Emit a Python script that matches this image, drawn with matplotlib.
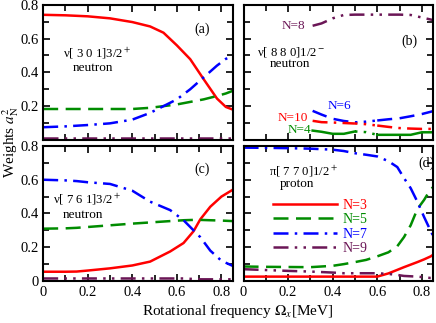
import numpy as np
import matplotlib
matplotlib.use("Agg")
import matplotlib.pyplot as plt
from matplotlib.ticker import MultipleLocator, FuncFormatter

plt.rcParams["font.family"] = ["Liberation Serif", "DejaVu Serif"]
plt.rcParams["mathtext.fontset"] = "stix"

RED = "#ff0000"
GREEN = "#008c00"
BLUE = "#0000ff"
PURPLE = "#6b1656"

# panel (a): nu[301]3/2+ neutron
a_x = [0.0, 0.1, 0.2, 0.3, 0.4, 0.48, 0.54, 0.6, 0.66, 0.72, 0.78, 0.82, 0.85]
a_n3 = [0.741, 0.738, 0.732, 0.72, 0.698, 0.672, 0.635, 0.56, 0.478, 0.36, 0.245, 0.195, 0.18]
a_n5 = [0.183, 0.183, 0.183, 0.183, 0.183, 0.19, 0.2, 0.21, 0.225, 0.24, 0.26, 0.275, 0.29]
a_n7 = [0.075, 0.08, 0.088, 0.098, 0.12, 0.16, 0.2, 0.24, 0.3, 0.37, 0.44, 0.48, 0.496]
a_n9 = [0.01, 0.01, 0.01, 0.01, 0.01, 0.01, 0.01, 0.01, 0.01, 0.01, 0.01, 0.01, 0.01]

# panel (b): nu[880]1/2- neutron
b_x = [0.31, 0.35, 0.4, 0.45, 0.5, 0.55, 0.6, 0.65, 0.7, 0.75, 0.8, 0.85]
b_n8 = [0.676, 0.69, 0.72, 0.74, 0.742, 0.742, 0.742, 0.742, 0.742, 0.74, 0.725, 0.71]
b_n6 = [0.172, 0.15, 0.125, 0.112, 0.104, 0.108, 0.115, 0.122, 0.128, 0.14, 0.153, 0.17]
b_n10 = [0.113, 0.105, 0.103, 0.1, 0.097, 0.093, 0.085, 0.077, 0.07, 0.067, 0.065, 0.065]
b_n4 = [0.055, 0.048, 0.036, 0.036, 0.05, 0.046, 0.03, 0.03, 0.03, 0.03, 0.045, 0.045]

# panel (c): nu[761]3/2+ neutron
c_x = [0.0, 0.1, 0.15, 0.2, 0.3, 0.4, 0.48, 0.57, 0.63, 0.675, 0.705, 0.75, 0.8, 0.85]
c_n3 = [0.055, 0.055, 0.056, 0.062, 0.075, 0.092, 0.115, 0.175, 0.225, 0.295, 0.365, 0.44, 0.5, 0.54]
c_n5 = [0.31, 0.312, 0.315, 0.32, 0.33, 0.34, 0.347, 0.355, 0.36, 0.362, 0.362, 0.36, 0.358, 0.355]
c_n7 = [0.6, 0.596, 0.592, 0.585, 0.575, 0.535, 0.47, 0.42, 0.36, 0.3, 0.26, 0.18, 0.12, 0.09]
c_n9 = [0.015, 0.015, 0.015, 0.015, 0.015, 0.015, 0.015, 0.015, 0.015, 0.012, 0.01, 0.01, 0.01, 0.01]

# panel (d): pi[770]1/2+ proton
d_x = [0.0, 0.1, 0.2, 0.3, 0.4, 0.45, 0.5, 0.55, 0.6, 0.65, 0.69, 0.72, 0.75, 0.78, 0.81, 0.84, 0.85]
d_n3 = [0.026, 0.026, 0.026, 0.026, 0.026, 0.026, 0.026, 0.026, 0.026, 0.045, 0.066, 0.082, 0.097, 0.112, 0.128, 0.146, 0.155]
d_n5 = [0.086, 0.084, 0.083, 0.082, 0.09, 0.1, 0.112, 0.125, 0.146, 0.17, 0.206, 0.26, 0.33, 0.426, 0.48, 0.545, 0.555]
d_n7 = [0.79, 0.789, 0.787, 0.784, 0.778, 0.77, 0.757, 0.748, 0.738, 0.71, 0.675, 0.61, 0.55, 0.47, 0.38, 0.296, 0.27]
d_n9 = [0.07, 0.065, 0.06, 0.056, 0.05, 0.046, 0.046, 0.046, 0.046, 0.042, 0.036, 0.03, 0.028, 0.026, 0.022, 0.018, 0.018]

labels = ["N=3", "N=5", "N=7", "N=9"]

styles = {
    "n3": dict(color=RED, linestyle="-"),
    "n5": dict(color=GREEN, linestyle=(0, (6, 3))),
    "n7": dict(color=BLUE, linestyle=(0, (6, 2.5, 1, 2.5))),
    "n9": dict(color=PURPLE, linestyle=(0, (6, 2.5, 1, 2.5, 1, 2.5))),
}
LW = 1.8


def tick_fmt(v, p):
    return "0" if abs(v) < 1e-9 else f"{v:.1f}"


def tick_fmt_top(v, p):
    # the top panels leave out the 0 so it does not clash with 0.8 below
    return "" if abs(v) < 1e-9 else f"{v:.1f}"


def style_axis(ax):
    ax.set_xlim(0, 0.85)
    ax.set_ylim(0, 0.8)
    ax.xaxis.set_major_locator(MultipleLocator(0.2))
    ax.xaxis.set_minor_locator(MultipleLocator(0.1))
    ax.yaxis.set_major_locator(MultipleLocator(0.2))
    ax.yaxis.set_minor_locator(MultipleLocator(0.1))
    ax.tick_params(which="both", direction="in", top=True, right=True, labelsize=10.5)
    ax.tick_params(which="major", length=5, width=1.2)
    ax.tick_params(which="minor", length=4, width=1.2)
    for s in ax.spines.values():
        s.set_linewidth(1.5)


def draw_panel(ax, x, n3, n5, n7, n9):
    ax.plot(x, n3, lw=LW, label=labels[0], **styles["n3"])
    ax.plot(x, n5, lw=LW, label=labels[1], **styles["n5"])
    ax.plot(x, n7, lw=LW, label=labels[2], **styles["n7"])
    ax.plot(x, n9, lw=LW, label=labels[3], **styles["n9"])


def draw_split(ax, x, y, color, ls):
    # main style outside 0.5-0.6, dotted inside
    x = np.array(x)
    y = np.array(y)
    m1 = x <= 0.5
    m2 = (x >= 0.5) & (x <= 0.6)
    m3 = x >= 0.6
    ax.plot(x[m1], y[m1], color=color, linestyle=ls, lw=LW)
    ax.plot(x[m2], y[m2], color=color, linestyle=(0, (1, 2.5)), lw=LW)
    ax.plot(x[m3], y[m3], color=color, linestyle=ls, lw=LW)


fig, axes = plt.subplots(2, 2, figsize=(4.36, 3.23), dpi=100)
fig.subplots_adjust(left=0.099, right=0.993, top=0.985, bottom=0.13, hspace=0.045, wspace=0.058)
ax_a, ax_b = axes[0]
ax_c, ax_d = axes[1]

for ax in axes.flat:
    style_axis(ax)

ax_a.yaxis.set_major_formatter(FuncFormatter(tick_fmt_top))
ax_c.yaxis.set_major_formatter(FuncFormatter(tick_fmt))
ax_c.xaxis.set_major_formatter(FuncFormatter(tick_fmt))
ax_d.xaxis.set_major_formatter(FuncFormatter(tick_fmt))
for ax in [ax_a, ax_b]:
    ax.tick_params(labelbottom=False)
for ax in [ax_b, ax_d]:
    ax.tick_params(labelleft=False)

draw_panel(ax_a, a_x, a_n3, a_n5, a_n7, a_n9)
draw_panel(ax_c, c_x, c_n3, c_n5, c_n7, c_n9)
draw_panel(ax_d, d_x, d_n3, d_n5, d_n7, d_n9)

ax_b.plot(b_x, b_n8, color=PURPLE, lw=LW, linestyle=styles["n9"]["linestyle"])
draw_split(ax_b, b_x, b_n6, BLUE, (0, (6, 3)))
draw_split(ax_b, b_x, b_n10, RED, (0, (6, 2.5, 1, 2.5)))
draw_split(ax_b, b_x, b_n4, GREEN, "-")

# panel texts
fs = 10
ofs = 9.2
nfs = 9.5
ax_a.text(0.09, 0.51, "ν[ 3 0 1]3/2$^+$", fontsize=ofs, va="center")
ax_a.text(0.225, 0.424, "neutron", fontsize=nfs, ha="center", va="center")
ax_a.text(0.713, 0.653, "(a)", fontsize=fs, ha="center", va="center")

ax_b.text(0.06, 0.52, "ν[ 8 8 0]1/2$^-$", fontsize=ofs, va="center")
ax_b.text(0.21, 0.452, "neutron", fontsize=nfs, ha="center", va="center")
ax_b.text(0.745, 0.584, "(b)", fontsize=fs, ha="center", va="center")
ax_b.text(0.225, 0.677, "N=8", color=PURPLE, fontsize=9.5, ha="center", va="center")
ax_b.text(0.43, 0.2, "N=6", color=BLUE, fontsize=9.5, ha="center", va="center")
ax_b.text(0.223, 0.13, "N=10", color=RED, fontsize=9.5, ha="center", va="center")
ax_b.text(0.25, 0.06, "N=4", color=GREEN, fontsize=9.5, ha="center", va="center")

ax_c.text(0.046, 0.487, "ν[ 7 6 1]3/2$^+$", fontsize=ofs, va="center")
ax_c.text(0.18, 0.39, "neutron", fontsize=nfs, ha="center", va="center")
ax_c.text(0.713, 0.664, "(c)", fontsize=fs, ha="center", va="center")

ax_d.text(0.114, 0.652, "π[ 7 7 0]1/2$^+$", fontsize=ofs, va="center")
ax_d.text(0.24, 0.572, "proton", fontsize=nfs, ha="center", va="center")
ax_d.text(0.822, 0.7, "(d)", fontsize=fs, ha="center", va="center")

leg = ax_d.legend(loc="center left", bbox_to_anchor=(0.12, 0.40), frameon=False,
                  fontsize=fs, handlelength=4.6, handletextpad=0.4, labelspacing=0.1,
                  borderpad=0)
for text, line in zip(leg.get_texts(), leg.get_lines()):
    text.set_color(line.get_color())

fig.text(0.025, 0.56, "Weights $a^2_{\\rm N}$", rotation=90, fontsize=11, va="center", ha="center")
fig.text(0.546, 0.025, "Rotational frequency $\\Omega_x$[MeV]", fontsize=11, ha="center")

plt.savefig("out.png", dpi=100)
